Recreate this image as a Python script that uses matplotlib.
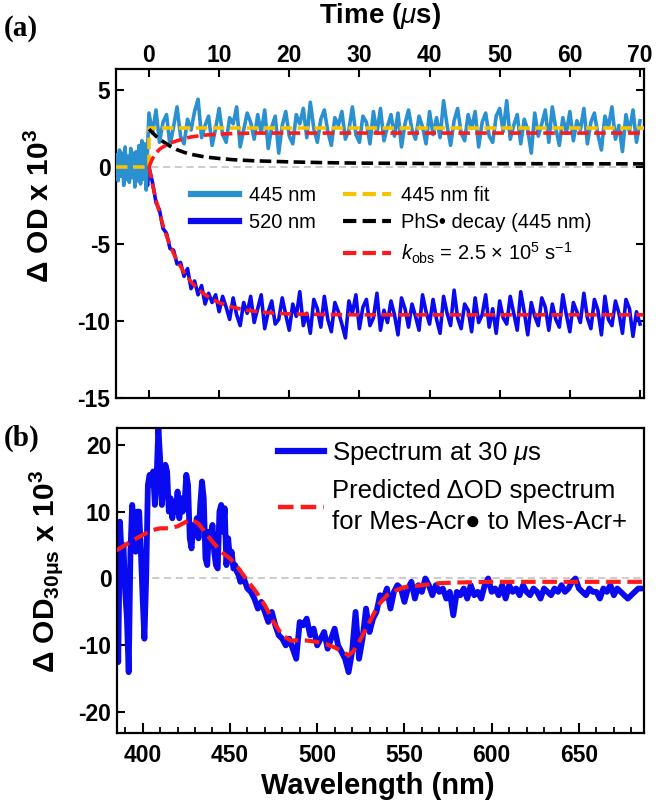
import numpy as np
import matplotlib
matplotlib.use("Agg")
import matplotlib.pyplot as plt
from matplotlib.lines import Line2D

plt.rcParams['font.family'] = ['Liberation Sans', 'DejaVu Sans']
plt.rcParams['mathtext.fontset'] = 'custom'
plt.rcParams['mathtext.rm'] = 'Liberation Sans'
plt.rcParams['mathtext.it'] = 'Liberation Sans:italic'
plt.rcParams['mathtext.bf'] = 'Liberation Sans:bold'
plt.rcParams['axes.unicode_minus'] = False

# ---------------- panel (a): kinetic traces ----------------
t_pre = np.round(np.arange(-23, 0) * 0.2, 1)
t_post = np.arange(141) * 0.5
t_trace = np.concatenate([t_pre, t_post])

od445_pre = [0.8, -0.9, 1.1, -0.6, 0.9, -1.2, 1.3, -0.8, 0.7, -1.0,
             1.2, -0.7, 0.9, -1.3, 1.0, -0.9, 1.4, -1.1, 1.7, -0.8,
             1.5, -1.5, 1.2]
od445_post = [3.5, 2.2, 3.7, 1.6, 2.9, 3.4, 1.4, 2.6, 3.9, 2.0,
              1.5, 3.1, 2.4, 3.6, 4.4, 1.9, 2.7, 3.3, 1.4, 2.5,
              3.8, 2.1, 1.6, 3.2, 2.8, 3.9, 1.3, 2.4, 3.5, 2.9,
              1.8, 3.4, 2.2, 3.7, 1.2, 2.6, 3.3, 0.9, 2.7, 3.6,
              2.0, 1.5, 3.4, 2.8, 3.8, 1.9, 4.2, 2.5, 1.6, 3.1,
              3.7, 2.3, 1.4, 3.2, 2.7, 3.6, 1.8, 2.4, 3.9, 2.1,
              1.6, 3.3, 2.9, 1.5, 3.6, 2.2, 3.8, 1.7, 2.6, 3.4,
              2.0, 3.5, 1.3, 2.8, 3.7, 2.4, 1.8, 3.3, 2.6, 1.5,
              3.6, 2.1, 3.2, 1.9, 4.3, 2.7, 1.4, 3.0, 3.8, 2.2,
              1.7, 3.4, 2.5, 3.6, 1.3, 2.9, 3.5, 2.0, 1.6, 3.3,
              3.8, 2.3, 4.3, 1.8, 2.7, 3.4, 1.5, 3.1, 2.4, 0.9,
              3.5, 2.0, 2.8, 3.7, 1.6, 3.9, 2.5, 1.4, 3.2, 2.2,
              3.6, 1.7, 3.0, 2.4, 3.8, 1.5, 2.9, 3.5, 2.1, 1.1,
              3.3, 2.6, 3.9, 1.8, 2.7, 1.0, 3.4, 2.3, 3.7, 1.6,
              3.0]

od520_pre = [0.3, -0.5, 0.4, -0.3, 0.6, -0.4, 0.2, -0.6, 0.5, -0.2,
             0.4, -0.5, 0.3, -0.4, 0.6, -0.3, 0.2, -0.5, 0.4, -0.6,
             0.3, -0.8, -1.2]
od520_post = [0.0, -1.0, -2.3, -2.8, -4.0, -4.3, -5.3, -5.4, -6.3, -6.2,
              -7.1, -6.6, -7.9, -7.4, -8.3, -7.7, -8.9, -8.2, -8.8, -8.3,
              -9.4, -8.4, -9.1, -9.9, -8.5, -9.6, -10.3, -8.8, -9.5, -8.4,
              -10.1, -9.2, -8.3, -10.5, -9.4, -8.7, -10.2, -9.9, -8.5, -9.6,
              -10.6, -8.9, -9.7, -8.1, -10.3, -9.5, -10.8, -8.6, -9.2, -10.4,
              -8.4, -9.9, -10.7, -8.8, -9.4, -10.2, -11.1, -8.7, -9.5, -8.3,
              -10.5, -9.1, -8.6, -10.3, -9.8, -8.2, -10.6, -9.3, -10.1, -8.7,
              -9.6, -10.9, -8.5, -9.2, -10.4, -8.9, -9.7, -10.6, -8.3, -9.4,
              -10.2, -8.6, -9.9, -10.8, -8.4, -9.5, -10.3, -8.0, -9.8, -10.5,
              -8.9, -9.3, -10.7, -8.5, -10.1, -9.6, -8.3, -10.4, -9.2, -10.8,
              -8.7, -9.8, -10.2, -8.4, -9.5, -10.6, -8.1, -9.4, -10.9, -8.8,
              -9.7, -10.3, -8.5, -9.1, -10.6, -8.9, -9.9, -10.4, -8.3, -9.6,
              -10.7, -8.8, -9.4, -10.1, -8.2, -9.8, -10.5, -8.6, -9.3, -10.9,
              -8.4, -9.9, -10.3, -8.7, -9.5, -10.8, -8.6, -9.2, -11.0, -9.4,
              -10.2]

od445 = od445_pre + od445_post
od520 = od520_pre + od520_post

fit445_t = [-4.7, 0.0, 0.0, 70.5]
fit445_y = [0.0, 0.0, 2.5, 2.5]

phs_t = [0, 1, 2, 3, 4, 5, 6, 8, 10, 12, 15, 20, 25, 30, 40, 70.5]
phs_y = [2.45, 2.0, 1.65, 1.35, 1.12, 0.95, 0.82, 0.65, 0.55, 0.47, 0.40, 0.33, 0.28, 0.25, 0.22, 0.20]

rise_t = [0, 0.5, 1, 1.5, 2, 3, 4, 5, 6, 8, 10, 12, 15, 20, 30, 70.5]
rise_y = [0, 0.55, 0.9, 1.15, 1.3, 1.55, 1.7, 1.85, 1.95, 2.07, 2.13, 2.17, 2.2, 2.2, 2.2, 2.2]

kobs_t = [0, 0.5, 1, 1.5, 2, 2.5, 3, 3.5, 4, 5, 6, 7, 8, 9, 10, 12, 14, 16, 18, 20, 25, 30, 70.5]
kobs_y = [0, -1.13, -2.12, -3.0, -3.78, -4.47, -5.07, -5.61, -6.07, -6.85, -7.46, -7.93,
          -8.3, -8.59, -8.81, -9.12, -9.31, -9.42, -9.5, -9.54, -9.58, -9.6, -9.6]

# ---------------- panel (b): spectrum ----------------
wl = np.concatenate([np.arange(385, 456), np.arange(456, 687, 2)])
od30_a = [2.0, -12.5, 8.5, 3.0, 5.0, -2.0, -6.0, -14.0, 4.0, 11.0,
          8.0, 4.0, 10.0, 10.0, 4.0, -3.0, -9.0, 0.0, 14.0, 15.5,
          14.0, 16.0, 11.0, 15.0, 22.5, 18.0, 11.0, 14.0, 17.0, 16.0,
          10.0, 12.0, 9.0, 11.0, 10.0, 13.0, 9.0, 12.0, 10.0, 11.0,
          15.5, 14.0, 6.0, 4.5, 8.0, 7.0, 9.0, 6.0, 11.0, 14.5,
          12.0, 3.0, 2.0, 7.0, 5.0, 8.0, 4.0, 2.0, 1.5, 10.0,
          11.0, 7.0, 10.5, 2.0, 6.0, 3.0, 4.0, 1.5, 2.0, 1.0,
          0.5]
od30_b = [-0.5, 0, -1.5, -2, -3, -4.5, -3.5, -5, -6.5, -5,
          -7, -8.5, -9, -10, -9, -10.5, -12, -6.5, -7, -6,
          -8.5, -7.5, -10, -9, -8, -10.5, -9, -7.5, -10, -11,
          -12, -14, -11, -5, -12, -9, -4.5, -8, -6, -5,
          -2.5, -3, -1.5, -4.5, -2, -1, -1.5, -3.5, -1.5, -0.5,
          -3, -1, -2, 0, -1, -2.5, -1, -2, -1.5, -3,
          -2, -5.5, -2, -2.5, -1.5, -3, -1, -2.5, -2, -3,
          -1, 0, -2, -1.5, -2.5, -1, -3, -1, -2, -1.5,
          -2.5, -1, -2, -2.5, -1.5, -2, -3, -1.5, -2, -2.5,
          -1.5, -2, -1, -2, -1.5, -0.5, 0, -1.5, -2, -2.5,
          -1.5, -2, -2, -3, -1.5, -2, -1, -2.5, -1.5, -2,
          -2.5, -3, -2.5, -2, -1.5, -1.5]
od30 = od30_a + od30_b

pred_wl = [385, 390, 395, 400, 405, 410, 415, 420, 425, 428, 432, 436, 440, 445, 450, 455,
           460, 465, 470, 475, 480, 485, 490, 495, 500, 505, 510, 515, 518, 521, 525, 530,
           535, 540, 545, 550, 560, 570, 580, 600, 620, 640, 660, 687]
pred_od = [4.2, 5.0, 5.8, 6.5, 7.2, 7.5, 7.5, 7.8, 8.5, 8.8, 8.2, 6.8, 5.5, 4.0, 3.0, 1.5,
           -0.3, -2.0, -4.0, -6.5, -8.5, -9.3, -9.2, -9.3, -9.5, -9.8, -10.3, -11.0, -11.5, -10.8, -9.0, -6.5,
           -4.0, -2.5, -1.8, -1.3, -1.0, -0.7, -0.6, -0.5, -0.5, -0.5, -0.5, -0.5]

# colours
c445 = '#2b90d0'
c520 = '#0a0af0'
cyel = '#f7c300'
cred = '#ff1a1a'
cgray = '#c8c8c8'

W, H = 659, 802
fig = plt.figure(figsize=(W / 100, H / 100), dpi=100)

def frac_axes(l, t, r, b):
    return fig.add_axes([l / W, 1 - b / H, (r - l) / W, (b - t) / H])

# ---- top axes
ax1 = frac_axes(116, 69, 643.5, 398)
ax1.axhline(0, color=cgray, lw=1.3, ls=(0, (4, 2.5)), zorder=1)
ax1.plot(t_trace, od520, color=c520, lw=2.6, zorder=2)
ax1.plot(t_trace, od445, color=c445, lw=2.6, zorder=3)
dash = (0, (3.2, 1.5))
ax1.plot(fit445_t, fit445_y, color=cyel, lw=2.6, ls=dash, zorder=4)
ax1.plot(phs_t, phs_y, color='black', lw=2.6, ls=dash, zorder=4)
ax1.plot(rise_t, rise_y, color=cred, lw=2.6, ls=dash, zorder=5)
ax1.plot(kobs_t, kobs_y, color=cred, lw=2.6, ls=dash, zorder=5)

ax1.set_xlim(-4.7, 70.5)
ax1.set_ylim(-15, 6.36)
ax1.set_xticks(range(0, 71, 10))
ax1.set_yticks([-15, -10, -5, 0, 5])
ax1.xaxis.tick_top()
ax1.tick_params(axis='x', top=True, bottom=True, labeltop=True, labelbottom=False,
                direction='in', length=6, width=1.5, pad=1.5)
ax1.tick_params(axis='y', left=True, right=True, direction='in', length=6, width=1.5, pad=4)
for lab in ax1.get_xticklabels() + ax1.get_yticklabels():
    lab.set_fontsize(16.5)
    lab.set_fontweight('bold')
for s in ax1.spines.values():
    s.set_linewidth(1.6)

blank = Line2D([], [], color='none')
handles1 = [Line2D([], [], color=c445, lw=4.5),
            Line2D([], [], color=c520, lw=4.5),
            blank,
            Line2D([], [], color=cyel, lw=3, ls=dash),
            Line2D([], [], color='black', lw=3, ls=dash),
            Line2D([], [], color=cred, lw=3, ls=dash)]
labels1 = ['445 nm', '520 nm', ' ', '445 nm fit', 'PhS\u2022 decay (445 nm)',
           r'$k_{\mathrm{obs}}$ = 2.5 $\times$ 10$^{5}$ s$^{-1}$']
leg1 = ax1.legend(handles1, labels1, ncol=2, loc='upper left', bbox_to_anchor=(0.142, 0.645),
                  frameon=False, fontsize=14.5, handlelength=2.4, handletextpad=0.5,
                  columnspacing=1.3, labelspacing=0.42, borderpad=0, borderaxespad=0)

# ---- bottom axes
ax2 = frac_axes(117, 428, 643.5, 733)
ax2.axhline(0, color=cgray, lw=1.3, ls=(0, (4, 2.5)), zorder=1)
ax2.plot(wl, od30, color=c520, lw=4.2, solid_joinstyle='round', solid_capstyle='round', zorder=2)
ax2.plot(pred_wl, pred_od, color=cred, lw=3.0, ls=(0, (3.5, 1.6)), zorder=3)
ax2.set_xlim(385.3, 687)
ax2.set_ylim(-23.1, 22.5)
ax2.set_xticks(range(400, 651, 50))
ax2.set_xticks(range(390, 687, 10), minor=True)
ax2.set_yticks([-20, -10, 0, 10, 20])
ax2.tick_params(axis='x', which='major', direction='in', length=7, width=1.5, pad=8)
ax2.tick_params(axis='x', which='minor', direction='in', length=4, width=1.3)
ax2.tick_params(axis='y', direction='in', length=6, width=1.5, pad=4)
for lab in ax2.get_xticklabels() + ax2.get_yticklabels():
    lab.set_fontsize(16.5)
    lab.set_fontweight('bold')
for s in ax2.spines.values():
    s.set_linewidth(1.6)

handles2 = [Line2D([], [], color=c520, lw=4.5),
            Line2D([], [], color=cred, lw=3.2, ls=(0, (3.5, 1.6)))]
labels2 = [r'Spectrum at 30 $\mu$s',
           'Predicted \u0394OD spectrum\nfor Mes-Acr\u25cf to Mes-Acr+']
leg2 = ax2.legend(handles2, labels2, loc='upper left', bbox_to_anchor=(0.306, 0.96),
                  frameon=False, fontsize=18.5, handlelength=1.8, handletextpad=0.3,
                  labelspacing=0.45, borderpad=0, borderaxespad=0)
for txt in leg2.get_texts():
    txt.set_linespacing(1.4)

# ---- labels
fig.text(380 / W, 1 - 16 / H, r'Time ($\mu$s)', ha='center', va='center',
         fontsize=20, fontweight='bold')
fig.text(378 / W, 1 - 786 / H, 'Wavelength (nm)', ha='center', va='center',
         fontsize=21, fontweight='bold')
fig.text(40 / W, 1 - 206 / H, r'$\mathbf{\Delta\ OD\ x\ 10^3}$', rotation=90,
         ha='center', va='center', fontsize=21.5)
fig.text(46 / W, 1 - 572 / H, r'$\mathbf{\Delta\ OD_{30\mu s}\ x\ 10^3}$', rotation=90,
         ha='center', va='center', fontsize=21.5)
fig.text(21 / W, 1 - 28 / H, '(a)', ha='center', va='center', fontsize=21,
         fontweight='bold', family='Liberation Serif')
fig.text(22 / W, 1 - 438 / H, '(b)', ha='center', va='center', fontsize=21,
         fontweight='bold', family='Liberation Serif')

fig.savefig('out.png', dpi=100)
